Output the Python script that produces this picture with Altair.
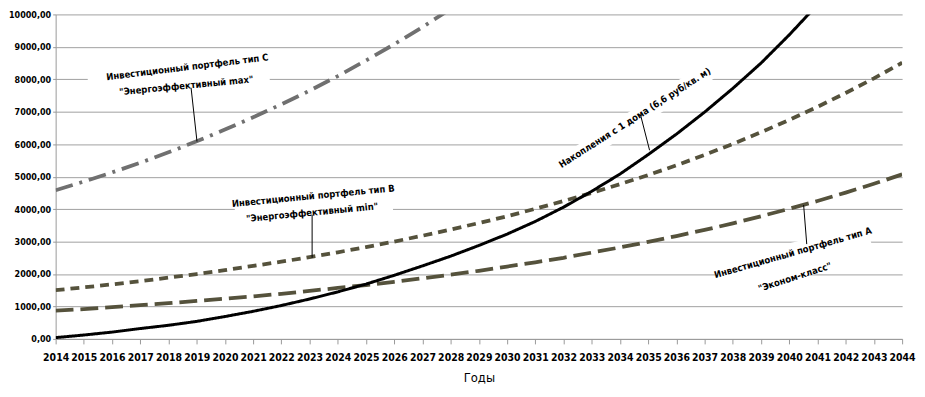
import altair as alt
import pandas as pd

years = list(range(2014, 2045))
# Инвестиционный портфель тип А (long dashes)
type_a = [870, 920, 980, 1040, 1100, 1170, 1240, 1310, 1390, 1480, 1570, 1660, 1760, 1870,
          1980, 2100, 2230, 2360, 2500, 2660, 2820, 2990, 3170, 3360, 3560, 3780, 4010,
          4250, 4510, 4780, 5070]
# Инвестиционный портфель тип В (short dashes)
type_b = [1500, 1590, 1680, 1780, 1890, 2000, 2120, 2250, 2380, 2520, 2670, 2830, 3000, 3180,
          3370, 3570, 3780, 4010, 4250, 4500, 4770, 5050, 5350, 5670, 6010, 6370, 6750,
          7150, 7580, 8030, 8510]
# Инвестиционный портфель тип С (dash-dot)
type_c = [4580, 4850, 5130, 5430, 5750, 6090, 6450, 6830, 7230, 7650, 8100, 8580, 9080, 9610,
          10170, None, None, None, None, None, None, None, None, None, None, None, None,
          None, None, None, None]
# Накопления с 1 дома
savings = [40, 120, 210, 320, 420, 540, 690, 850, 1030, 1230, 1450, 1690, 1960, 2250, 2550,
           2880, 3230, 3620, 4060, 4550, 5080, 5680, 6310, 6990, 7720, 8500, 9370, 10300,
           None, None, None]
y_ticks = list(range(0, 10001, 1000))

FONT = "DejaVu Sans Condensed"

df = pd.DataFrame({"year": years, "A": type_a, "B": type_b, "C": type_c, "S": savings})

xscale = alt.Scale(domain=[2014, 2044], nice=False, zero=False)
yscale = alt.Scale(domain=[0, 10000], nice=False)

x_axis = alt.Axis(values=years, format="d", title="Годы", grid=False,
                  tickSize=5, labelPadding=9, labelFontSize=10.5, labelFontWeight="bold",
                  labelFont=FONT, titleFont=FONT, titleFontSize=13, titleFontWeight="normal",
                  titlePadding=8, labelColor="#000", titleColor="#000",
                  domainColor="#999", tickColor="#999", labelFlush=False,
                  labelOverlap=False)
y_axis = alt.Axis(values=y_ticks, labelExpr="replace(format(datum.value, '.2f'), '.', ',')",
                  grid=True, gridColor="#a0a0a0", gridWidth=1, tickSize=3,
                  tickColor="#999", domainColor="#999", labelFont=FONT,
                  labelFontSize=9, labelFontWeight="bold", labelColor="#000",
                  labelPadding=2, labelOverlap=False, title=None)


def X(field):
    return alt.X(field, scale=xscale, axis=x_axis, title="Годы")


def Y(field):
    return alt.Y(field, scale=yscale, axis=y_axis, title=None)


def series(col, color, dash, width):
    return alt.Chart(df).transform_filter(f"isValid(datum.{col})").mark_line(
        color=color, strokeWidth=width, strokeDash=dash, clip=True
    ).encode(x=X("year:Q"), y=Y(f"{col}:Q"))


line_c = series("C", "#707070", [18, 7, 3, 7], 3.8)
line_b = series("B", "#55523c", [9, 6], 3.8)
line_a = series("A", "#55523c", [18, 7], 3.8)
line_s = series("S", "#000000", [1, 0], 3)

# annotations
ann_text = pd.DataFrame({
    "year": [2018.67, 2018.63, 2023.13, 2023.09, 2034.53, 2040.13, 2040.2],
    "val": [8370, 7800, 4400, 3890, 6810, 2650, 1900],
    "label": ["Инвестиционный портфель тип С", "\"Энергоэффективный max\"",
              "Инвестиционный портфель тип В", "\"Энергоэффективный min\"",
              "Накопления с 1 дома (6,6 руб/кв. м)",
              "Инвестиционный портфель тип А", "\"Эконом-класс\""],
    "angle": [353, 354.5, 354.5, 354.5, 327.5, 344, 342],
})
ann_lines = pd.DataFrame({
    "x1": [2018.8, 2023.09, 2034.74, 2040.51],
    "x2": [2019.01, 2023.09, 2035.05, 2040.62],
    "y1": [7740, 3825, 6867, 4127],
    "y2": [6084, 2500, 5813, 2922],
})
# white backgrounds of the label boxes (they interrupt the gridlines)
bg_bands = pd.DataFrame({
    "x1": [2015.18, 2020.36, 2031.83, 2037.43],
    "x2": [2021.53, 2025.92, 2037.26, 2042.89],
    "y1": [7711, 3885, 5271, 1807],
    "y2": [8403, 4337, 8313, 3012],
    "w": [34, 34, 18, 36],
})

bands = alt.Chart(bg_bands).mark_rule(color="white").encode(
    x=X("x1:Q"), x2="x2:Q", y=Y("y1:Q"), y2="y2:Q",
    strokeWidth=alt.StrokeWidth("w:Q", scale=None, legend=None))

texts = []
for _, r in ann_text.iterrows():
    texts.append(alt.Chart(pd.DataFrame([r])).mark_text(
        font=FONT, fontSize=9.5, fontWeight="bold", color="#000", angle=float(r["angle"]),
        align="center", baseline="middle"
    ).encode(x=X("year:Q"), y=Y("val:Q"), text="label:N"))

leaders = alt.Chart(ann_lines).mark_rule(color="#000", strokeWidth=1).encode(
    x=X("x1:Q"), x2="x2:Q", y=Y("y1:Q"), y2="y2:Q")

chart = alt.layer(bands, line_a, line_b, line_c, line_s, leaders, *texts).properties(
    width=853, height=327,
    autosize=alt.AutoSizeParams(type="none"),
    padding={"left": 48, "top": 5, "right": 15, "bottom": 49},
).configure_view(stroke=None)

chart.save("out.html", embed_options={"renderer": "svg", "actions": False})
